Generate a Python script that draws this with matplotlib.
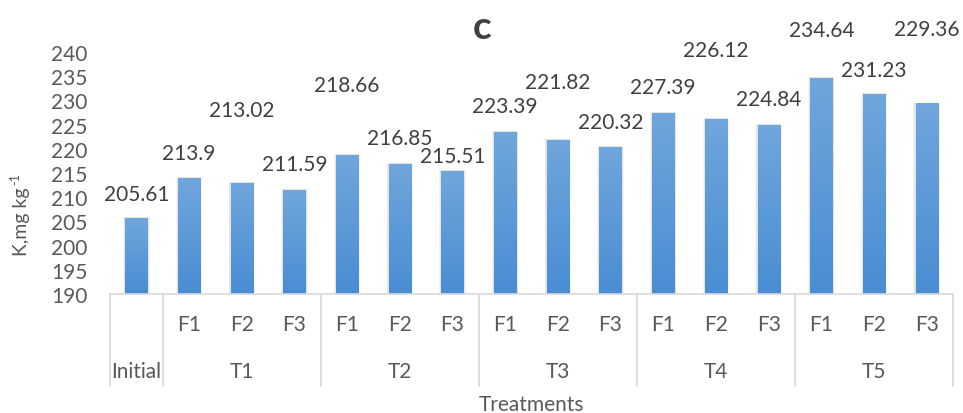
import matplotlib
matplotlib.use('Agg')
import matplotlib.pyplot as plt
import numpy as np
from matplotlib.colors import LinearSegmentedColormap

# data
treatments = ['Initial', 'T1', 'T2', 'T3', 'T4', 'T5']
fert = ['', 'F1', 'F2', 'F3', 'F1', 'F2', 'F3', 'F1', 'F2', 'F3',
        'F1', 'F2', 'F3', 'F1', 'F2', 'F3']
values = [205.61, 213.9, 213.02, 211.59, 218.66, 216.85, 215.51,
          223.39, 221.82, 220.32, 227.39, 226.12, 224.84,
          234.64, 231.23, 229.36]
# where the (hand placed) value labels sit, in y units
label_y = [210.7, 219.1, 228.0, 216.9, 233.2, 222.2, 218.5,
           228.8, 233.8, 225.5, 232.8, 240.4, 230.3,
           244.5, 236.3, 244.8]

txt = '#595959'
plt.rcParams['font.family'] = ['Lato', 'DejaVu Sans']

fig = plt.figure(figsize=(9.63, 4.14), dpi=100)
ax = fig.add_axes([110/963, 1-295/414, 843/963, 242/414])

x = list(range(len(values)))
bars = ax.bar(x, [v - 190 for v in values], bottom=190, width=0.42,
              color='#5b9bd5', zorder=2, edgecolor='none')

# vertical gradient like the excel fill
cmap = LinearSegmentedColormap.from_list('blu', ['#4a8dd3', '#6fa6dc'])
grad = np.linspace(0, 1, 100).reshape(-1, 1)
for b in bars:
    x0, y0 = b.get_x(), b.get_y()
    im = ax.imshow(grad, cmap=cmap, origin='lower', aspect='auto', zorder=3,
                   extent=[x0, x0 + b.get_width(), y0, y0 + b.get_height()])
    im.set_clip_path(b)
    # soft shadow both sides
    for w, a in [(0.08, 0.12), (0.05, 0.18)]:
        ax.bar(x0 + b.get_width()/2, b.get_height() + 0.2, bottom=y0, width=b.get_width() + w,
               color='#a6a6a6', alpha=a, zorder=1, edgecolor='none')

for xi, v, ly in zip(x, values, label_y):
    ax.text(xi, ly, '%g' % v, ha='center', va='center', fontsize=15,
            color='#404040', clip_on=False)

ax.set_xlim(-0.5, 15.5)
ax.set_ylim(190, 240)
ax.set_yticks(range(190, 241, 5))
ax.tick_params(axis='y', length=0, pad=16, labelsize=15, labelcolor=txt)
ax.set_xticks([])
for s in ['top', 'right', 'left']:
    ax.spines[s].set_visible(False)
ax.spines['bottom'].set_color('#d9d9d9')
ax.spines['bottom'].set_linewidth(1.2)
ax.spines['bottom'].set_zorder(4)

# two-level category axis
tr = ax.get_xaxis_transform()
for sep in [-0.5, 0.5, 3.5, 6.5, 9.5, 12.5, 15.5]:
    ax.plot([sep, sep], [0, -0.38], transform=tr, color='#d9d9d9', lw=1.2, clip_on=False)
for xi, f in zip(x, fert):
    ax.text(xi, -0.124, f, transform=tr, ha='center', va='center', fontsize=15, color=txt)
group_mid = [0, 2, 5, 8, 11, 14]
for gm, t in zip(group_mid, treatments):
    ax.text(gm, -0.318, t, transform=tr, ha='center', va='center', fontsize=15, color=txt)

ax.text(0.5, -0.455, 'Treatments', transform=ax.transAxes, ha='center', va='center',
        fontsize=15, color=txt)
fig.text(22/963, 1-222/414, 'K,mg kg', rotation=90, ha='center', va='center',
         fontsize=14, color=txt)
fig.text(15/963, 1-179/414, '-1', rotation=90, ha='center', va='center',
         fontsize=9, color=txt)
ax.text(0.442, 1.107, 'c', transform=ax.transAxes, ha='center', va='center',
        fontsize=28, fontweight='bold', color='#404040')

fig.savefig('out.png', dpi=100)
